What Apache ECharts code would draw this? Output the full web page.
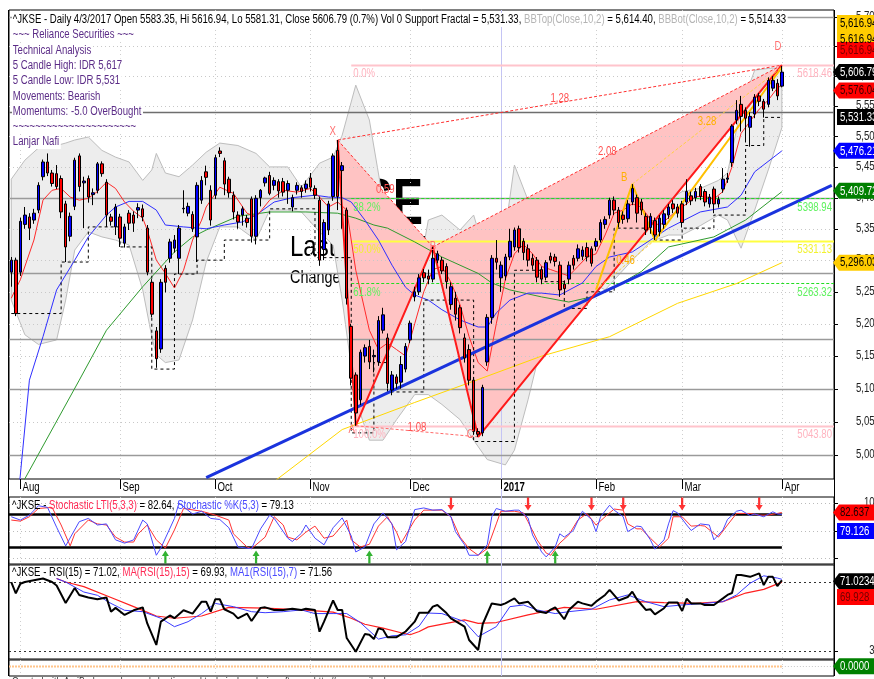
<!DOCTYPE html>
<html><head><meta charset="utf-8">
<script src="https://cdn.jsdelivr.net/npm/echarts@6/dist/echarts.min.js"></script>
<style>html,body{margin:0;padding:0;background:#fff}#c{width:874px;height:679px}</style>
</head><body><div id="c"></div>
<script>
// ---------------- DATA ----------------
const monthNames = ['Aug','Sep','Oct','Nov','Dec','2017','Feb','Mar','Apr'];
const monthStartBars = [2,24,45,66,88,108,129,148,170];
const yearStartBar = 108;
const N_CATS = 182;
// [open, high, low, close]
const jul16 = [[5281,5305,5258,5300],[5300,5304,5212,5216]];
const aug16 = [[5281,5368,5275,5362],[5357,5385,5350,5372],[5369,5375,5332,5351],[5364,5382,5358,5375],[5380,5425,5375,5420],[5434,5462,5428,5458],[5458,5472,5435,5440],[5440,5445,5418,5423],[5439,5453,5414,5418],[5431,5436,5367,5377],[5390,5395,5297,5321],[5338,5376,5330,5370],[5386,5465,5380,5461],[5468,5472,5410,5418],[5424,5434,5351,5427],[5431,5436,5392,5401],[5405,5415,5388,5408],[5412,5458,5407,5455],[5455,5459,5434,5439],[5425,5430,5353,5372],[5369,5374,5355,5362],[5353,5390,5340,5385]];
const sep16 = [[5369,5374,5321,5335],[5327,5358,5320,5353],[5375,5380,5348,5359],[5372,5378,5345,5359],[5380,5391,5367,5384],[5382,5389,5362,5369],[5351,5356,5276,5281],[5265,5270,5210,5215],[5189,5195,5132,5146],[5161,5270,5155,5265],[5287,5292,5249,5265],[5303,5334,5296,5329],[5319,5340,5312,5332],[5303,5356,5278,5351],[5382,5412,5375,5383],[5375,5392,5370,5386],[5373,5378,5345,5350],[5337,5425,5297,5420],[5396,5435,5390,5428],[5442,5452,5420,5433],[5412,5420,5355,5364]];
const oct16 = [[5404,5470,5398,5465],[5476,5482,5466,5472],[5460,5465,5404,5422],[5430,5434,5400,5408],[5404,5410,5365,5377],[5372,5378,5350,5361],[5372,5386,5355,5382],[5367,5372,5352,5360],[5398,5402,5328,5338],[5338,5404,5325,5399],[5400,5414,5386,5412],[5424,5434,5418,5432],[5436,5442,5404,5407],[5420,5433,5412,5428],[5426,5430,5400,5411],[5426,5432,5402,5409],[5412,5428,5390,5423],[5385,5405,5378,5400],[5412,5425,5405,5420],[5416,5420,5400,5410],[5415,5428,5408,5422]];
const nov16 = [[5432,5440,5410,5417],[5415,5420,5398,5404],[5396,5402,5291,5300],[5317,5365,5300,5360],[5348,5395,5340,5390],[5402,5472,5395,5468],[5477,5494,5380,5402],[5444,5458,5350,5452],[5380,5384,5230,5240],[5196,5200,5105,5116],[5121,5125,5043.8,5063],[5083,5160,5075,5156],[5150,5168,5140,5163],[5165,5175,5130,5141],[5149,5160,5125,5151],[5141,5212,5135,5205],[5190,5225,5185,5214],[5178,5185,5100,5108],[5098,5127,5090,5121],[5118,5122,5100,5108],[5110,5150,5100,5137],[5130,5170,5125,5165]];
const dec16 = [[5175,5205,5170,5201],[5242,5258,5235,5250],[5250,5278,5245,5272],[5280,5286,5265,5272],[5275,5285,5262,5270],[5270,5321,5265,5303],[5300,5315,5295,5310],[5300,5305,5278,5283],[5290,5295,5255,5266],[5230,5265,5222,5258],[5240,5250,5205,5215],[5225,5230,5185,5194],[5178,5185,5140,5147],[5160,5168,5105,5113],[5113,5118,5030,5035],[5035,5040,5027,5031],[5033,5106,5028,5102],[5141,5215,5135,5210],[5210,5308,5200,5303],[5303,5332,5285,5296.7]];
const jan17 = [[5272,5298,5250,5292],[5275,5310,5268,5305],[5305,5350,5300,5330],[5321,5352,5315,5348],[5350,5355,5312,5320],[5330,5335,5300,5312],[5318,5325,5290,5300],[5303,5310,5285,5292],[5300,5305,5265,5273],[5285,5290,5262,5270],[5273,5300,5268,5296],[5306,5312,5295,5300],[5305,5310,5290,5298],[5292,5298,5242,5253],[5262,5268,5245,5255],[5270,5298,5262,5292],[5303,5308,5285,5292],[5303,5325,5298,5318],[5306,5322,5300,5316],[5320,5328,5298,5305],[5318,5322,5290,5295]];
const feb17 = [[5322,5335,5315,5330],[5332,5365,5328,5360],[5357,5370,5350,5365],[5372,5400,5366,5396],[5396,5402,5372,5380],[5380,5385,5352,5360],[5372,5378,5358,5365],[5366,5396,5360,5390],[5393,5422,5388,5415],[5400,5405,5360,5375],[5393,5398,5372,5380],[5370,5375,5340,5348],[5352,5375,5342,5370],[5363,5368,5332,5340],[5345,5372,5338,5367],[5357,5380,5350,5374],[5372,5390,5366,5385],[5390,5396,5375,5382],[5385,5390,5368,5375]];
const mar17 = [[5390,5395,5352,5360],[5393,5430,5388,5410],[5403,5410,5388,5395],[5400,5416,5394,5410],[5418,5422,5396,5402],[5410,5414,5386,5393],[5390,5406,5384,5401],[5414,5418,5375,5390],[5390,5402,5384,5397],[5414,5448,5408,5430],[5430,5440,5424,5432],[5457,5520,5450,5517],[5527,5560,5520,5543],[5553,5567,5508,5533],[5543,5548,5490,5530],[5515,5540,5483,5533],[5537,5570,5530,5565],[5567,5572,5550,5558],[5558,5562,5531,5545],[5553,5598,5548,5593],[5580,5600,5575,5593],[5588,5595,5560,5567]];
const apr17 = [[5583.35,5616.94,5581.31,5606.79]];

// indicator lines, [bar, value]
const maFast = [[0,5240],[2,5269],[5,5332],[7,5396],[9,5412],[11,5415],[13,5401],[15,5396],[17,5399],[19,5410],[21,5425],[23,5415],[25,5393],[27,5378],[29,5367],[30,5348],[32,5300],[34,5279],[36,5256],[38,5284],[40,5332],[42,5364],[43,5385],[46,5417],[49,5407],[52,5375],[54,5369],[57,5396],[60,5412],[63,5409],[66,5415],[68,5401],[70,5385],[72,5393],[74,5380],[76,5284],[79,5190],[81,5160],[83,5170],[85,5160],[87,5150],[89,5200],[91,5250],[93,5285],[95,5290],[97,5265],[99,5230],[101,5180],[103,5140],[105,5127],[107,5200],[109,5270],[111,5310],[113,5325],[115,5310],[117,5290],[119,5285],[121,5280],[123,5275],[125,5290],[127,5305],[129,5310],[131,5340],[133,5375],[135,5380],[137,5390],[139,5385],[141,5365],[143,5355],[145,5368],[147,5380],[149,5390],[151,5402],[153,5402],[155,5398],[157,5410],[159,5450],[161,5505],[163,5525],[165,5545],[167,5560],[169,5580],[170,5585]];
const maMid = [[1,4900],[4,5113],[7,5180],[10,5253],[14,5300],[17,5337],[21,5372],[23,5385],[26,5394],[29,5394],[32,5380],[34,5356],[38,5353],[43,5350],[47,5356],[51,5361],[54,5372],[58,5393],[62,5400],[67,5404],[70,5401],[73,5400],[75,5393],[78,5364],[81,5332],[84,5292],[87,5257],[89,5245],[92,5237],[95,5222],[99,5206],[103,5195],[105,5195],[107,5217],[110,5237],[114,5248],[117,5248],[121,5245],[126,5264],[129,5290],[132,5305],[137,5313],[145,5351],[152,5377],[158,5385],[161,5404],[164,5442],[170,5476.2]];
const maSlow = [[1,4940],[15,5113],[21,5190],[29,5258],[36,5313],[40,5337],[43,5348],[50,5370],[57,5377],[65,5377],[72,5375],[76,5367],[80,5356],[83,5351],[89,5329],[95,5305],[103,5279],[106,5264],[110,5253],[117,5242],[123,5234],[128,5242],[132,5253],[139,5282],[145,5321],[155,5337],[162,5364],[170,5409.7]];
const maLong = [[56,4950],[73,5038],[89,5079],[103,5114],[117,5150],[132,5180],[147,5232],[160,5263],[170,5296.0]];
const bbTop = [[0,5430],[3,5461],[6,5481],[10,5485],[12,5489],[14,5494],[17,5499],[20,5477],[23,5466],[26,5458],[29,5428],[31,5445],[32,5472],[34,5440],[37,5434],[40,5453],[43,5474],[46,5489],[50,5485],[54,5472],[57,5450],[61,5450],[64,5417],[68,5456],[71,5466],[73,5502],[76,5585],[79,5527],[82,5396],[85,5253],[89,5242],[92,5364],[95,5372],[99,5348],[102,5372],[105,5300],[109,5348],[111,5453],[114,5396],[117,5351],[121,5340],[124,5324],[127,5324],[131,5412],[137,5417],[141,5404],[145,5396],[148,5410],[152,5415],[156,5428],[158,5440],[161,5547],[164,5610],[167,5613],[170,5614.4]];
const bbBot = [[0,5237],[3,5183],[6,5168],[10,5175],[12,5237],[14,5316],[17,5345],[20,5337],[23,5332],[26,5324],[29,5253],[31,5180],[32,5152],[34,5140],[37,5144],[40,5206],[43,5297],[46,5353],[50,5353],[54,5332],[57,5380],[61,5380],[64,5377],[68,5345],[71,5324],[73,5237],[76,5083],[79,5022],[82,5022],[85,5053],[89,5091],[92,5091],[95,5076],[99,5053],[102,5022],[105,4993],[109,4985],[111,5007],[114,5083],[117,5168],[121,5237],[124,5253],[127,5269],[131,5253],[137,5300],[141,5329],[145,5340],[148,5340],[152,5355],[156,5372],[158,5364],[161,5319],[164,5380],[167,5445],[170,5514.33]];
const supportFractal = [[0,5216],[11,5297],[17,5353],[24,5321],[31,5130],[36,5278],[41,5300],[47,5332],[57,5382],[67,5304],[75,5033],[80,5140],[83,5095],[91,5237],[102,5020],[111,5284],[117,5266],[122,5224],[127,5250],[133,5351],[142,5332],[148,5351],[155,5372],[162,5485],[166,5531.33],[170,5531.33]];
const trendLine = [[43,4966],[181,5420]];
// harmonic pattern pivots [bar, price]
const patX = [72,5494], patA = [76,5043.8], patB = [93,5321], patC = [103,5027], patD = [170,5618.46];
const pat2X = [129,5253], pat2B = [137,5422], pat2C = [142,5332], pat2D = [170,5615];
const fibLevels = [5618.46,5398.94,5331.13,5263.32,5043.80];
const fibNames = ['0.0%','38.2%','50.0%','61.8%','100.0%'];
const priceTicks = [5000,5050,5100,5150,5200,5250,5300,5350,5400,5450,5500,5550,5600,5650,5700];
const grayLevels = [5000,5100,5176,5280,5400,5700];
const darkLevel = 5541;
// oscillators
const stochK = [[0,75],[2,69],[4,78],[6,95],[8,92],[10,56],[12,22],[15,66],[17,72],[19,60],[21,62],[23,33],[25,27],[27,33],[29,69],[30,62],[32,5],[33,18],[36,72],[37,100],[40,80],[42,85],[44,72],[46,70],[48,55],[50,20],[53,17],[55,53],[57,78],[58,72],[61,36],[62,30],[64,45],[65,60],[67,36],[69,24],[71,55],[73,73],[75,40],[76,11],[78,20],[80,62],[82,82],[84,62],[85,15],[87,30],[89,88],[91,91],[93,87],[95,88],[97,75],[98,48],[100,24],[101,5],[103,5],[105,24],[106,75],[107,90],[109,85],[111,87],[112,87],[114,73],[115,42],[117,11],[118,2],[120,20],[121,44],[122,38],[124,50],[126,85],[128,70],[129,48],[130,75],[132,96],[133,87],[135,75],[136,48],[138,58],[139,57],[141,33],[142,16],[144,33],[145,62],[146,86],[147,82],[149,60],[150,50],[152,62],[154,60],[155,33],[157,51],[158,70],[160,85],[161,87],[163,77],[164,80],[166,75],[168,84],[169,80],[170,79.13]];
const stochLTI = [[0,69],[2,67],[4,75],[6,90],[9,92],[11,60],[13,22],[14,44],[17,69],[19,62],[21,60],[23,38],[25,29],[27,29],[28,44],[30,60],[32,33],[34,18],[36,51],[38,90],[42,85],[45,78],[48,69],[49,44],[52,20],[53,17],[56,38],[58,75],[60,60],[61,38],[63,33],[65,47],[67,58],[69,36],[71,40],[74,69],[75,33],[77,20],[79,25],[81,58],[83,75],[85,47],[86,27],[89,69],[91,87],[93,87],[95,87],[97,75],[99,38],[101,17],[103,5],[105,17],[107,62],[108,85],[111,85],[113,82],[114,66],[116,33],[118,9],[119,5],[121,27],[123,42],[125,69],[127,81],[129,60],[131,75],[133,89],[135,87],[136,62],[138,53],[139,53],[141,36],[143,20],[145,36],[146,75],[148,75],[150,58],[152,59],[153,58],[156,38],[158,60],[160,81],[163,81],[165,78],[167,78],[169,81],[170,82.64]];
const stochBuyBars = [34,54,79,105,120];
const stochSellBars = [97,114,128,135,148,165];
const rsi = [[0,70],[1,63.4],[2,69],[3,70],[5,71],[7,72],[9,70],[10,68],[12,57.8],[14,66.5],[15,62.5],[17,61],[19,60],[21,61],[22,52.8],[23,55],[25,50.9],[27,53.6],[29,55.3],[30,46],[32,33.5],[33,47],[35,50.6],[36,49],[38,53.6],[40,51.7],[42,58.6],[43,58.6],[44,52.8],[45,60],[46,60],[47,54.2],[49,51.7],[50,48.9],[52,51.7],[53,47.4],[55,55],[56,55.3],[58,53.8],[60,53.8],[62,54.5],[64,53.8],[65,54.5],[67,53.8],[68,41.2],[69,47],[71,59.3],[72,53.8],[73,53.8],[74,37.5],[76,29.6],[78,39.8],[79,39.4],[80,36.9],[81,43.1],[82,42.4],[83,38],[85,38],[87,41.3],[89,47],[90,52.2],[92,52.2],[93,55.7],[94,56.7],[96,52],[97,48.9],[100,44.1],[101,36.4],[103,30.6],[104,45.5],[106,57.6],[108,56.7],[109,57.6],[111,60.5],[112,57.6],[114,58.6],[116,53],[118,52],[119,54],[120,55.3],[122,48.4],[123,53.8],[125,58.6],[126,57.6],[128,56.2],[129,58.6],[131,62.5],[132,65.4],[134,59.3],[136,61.3],[137,64.4],[138,60],[140,53.8],[141,54.2],[142,51.2],[144,54.8],[145,58.1],[147,58.1],[148,53.2],[149,60.3],[150,57.6],[152,57.6],[153,56.7],[155,56.7],[157,60.5],[158,62.5],[159,63.6],[160,74],[161,74],[163,73],[165,75],[166,68.2],[167,73],[168,73],[169,67.6],[170,71.02]];
const rsiMA15 = [[10,72],[12,70],[16,67.3],[22,61],[27,55.7],[32,50.3],[36,49],[42,50.3],[48,55.3],[56,54.8],[64,53.8],[71,52.5],[75,49],[78,45.5],[82,43.3],[86,40.6],[88,39.4],[90,41.3],[92,44],[100,48],[103,46],[107,46.5],[114,50.9],[122,55.3],[129,54.2],[138,58.6],[144,58],[151,57.6],[157,58.6],[162,63.6],[166,65.7],[170,69.93]];
const rsiMA7 = [[10,72],[12,70],[16,64.2],[19,62.3],[22,57.6],[25,53.6],[29,52.8],[33,49],[36,44.1],[39,47],[42,51.7],[45,57.6],[49,55.7],[53,52.8],[56,52.2],[60,52.8],[64,53.8],[67,51.7],[71,51.7],[74,51.7],[77,46.5],[81,36.9],[84,38.8],[87,39.4],[90,44.5],[92,52],[95,51.7],[100,47],[103,38.3],[107,44.1],[110,55.7],[113,56.7],[116,53.8],[120,51.7],[123,52.8],[128,54.2],[132,59.6],[136,62.5],[140,58.6],[144,55.7],[148,56.7],[153,57.6],[157,58.6],[160,62.5],[163,69.3],[166,73.6],[169,72.3],[170,71.56]];

// ---------------- LAYOUT ----------------
const GL = 9, GW = 825;
const panels = [{top:10,height:469},{top:497,height:67},{top:565,height:94},{top:660,height:16}];
const yRanges = [[4964,5712],[-10.9,110.9],[25.36,79.86],[-1.6,1]];
const SX = 0.8;
const FONT = 'Arial, "Liberation Sans", sans-serif';

const candles = [].concat(jul16,aug16,sep16,oct16,nov16,dec16,jan17,feb17,mar17,apr17);
const candleData = candles.map(c => [c[0], c[3], c[2], c[1]]);
const cats = Array.from({length:N_CATS}, (_, i) => String(i));

const chart = echarts.init(document.getElementById('c'), null, {renderer:'canvas'});

function hidden(extra){ return Object.assign({axisLine:{show:false},axisTick:{show:false},axisLabel:{show:false},splitLine:{show:false}}, extra); }

function lineS(grid, data, color, width, o){
  o = o || {};
  return {type:'line', xAxisIndex:grid, yAxisIndex:grid, data, symbol:'none', silent:true, animation:false,
    connectNulls:true, step:o.step||false, z:o.z||4,
    lineStyle:{color, width, type:o.dash||'solid'}};
}
function polyS(pts, fill, stroke, z){
  return {type:'custom', xAxisIndex:0, yAxisIndex:0, z, silent:true, animation:false,
    data:[[0,5000]], encode:{x:0,y:1},
    renderItem(params, api){
      return {type:'polygon', shape:{points: pts.map(p => api.coord(p))},
        style:{fill, stroke: stroke || null, lineWidth:1}};
    }};
}
function hlineS(grid, items, z){
  return {type:'custom', xAxisIndex:grid, yAxisIndex:grid, z, silent:true, animation:false,
    data: items.map(it => [it.from == null ? 0 : it.from, it.level, it.to == null ? 0 : it.to]),
    encode:{x:[0,2], y:1},
    renderItem(params, api){
      const it = items[params.dataIndex];
      const cs = params.coordSys;
      const y = Math.round(api.coord([0, it.level])[1]) + 0.5;
      const x1 = it.from == null ? cs.x : api.coord([it.from, it.level])[0];
      const x2 = it.to == null ? cs.x + cs.width : api.coord([it.to, it.level])[0];
      return {type:'line', shape:{x1, y1:y, x2, y2:y},
        style:{stroke:it.color, lineWidth:it.width, lineDash:it.dash || null}};
    }};
}
function vlineS(grid, bars, color, dash, z){
  const mid = (yRanges[grid][0] + yRanges[grid][1]) / 2;
  return {type:'custom', xAxisIndex:grid, yAxisIndex:grid, z, silent:true, animation:false,
    data: bars.map(b => [b, mid]), encode:{x:0,y:1},
    renderItem(params, api){
      const cs = params.coordSys;
      const x = Math.round(api.coord([api.value(0), mid])[0]) + 0.5;
      return {type:'line', shape:{x1:x, y1:cs.y, x2:x, y2:cs.y + cs.height},
        style:{stroke:color, lineWidth:1, lineDash:dash || null}};
    }};
}

const monthGridBars = monthStartBars.filter(b => b !== yearStartBar);
const series = [];
for (let g = 0; g < 4; g++) series.push(vlineS(g, monthGridBars, '#cfcfcf', [1,3], 0));
series.push(polyS(bbTop.concat(bbBot.slice().reverse()), '#ededed', '#bdbdbd', 1));
series.push(polyS([patX, patA, patB], '#ffc3c3', null, 1.5));
series.push(polyS([patB, patC, patD], '#ffc3c3', null, 1.5));
series.push(hlineS(0, priceTicks.map(v => ({level:v, color:'#c8c8c8', width:1, dash:[1,3]})), 2));
series.push(hlineS(0, grayLevels.map(v => ({level:v, color:'#9a9a9a', width:1.5})), 2.2));
series.push(hlineS(0, [{level:darkLevel, color:'#6e6e6e', width:1.5}], 2.2));
const fibStyles = [{color:'#ffc4cc', width:2},{color:'#22dd22', width:1, dash:[3,2]},{color:'#ffff40', width:2},{color:'#22dd22', width:1, dash:[3,2]},{color:'#ffc4cc', width:2}];
series.push(hlineS(0, fibLevels.map((v,i) => Object.assign({level:v, from:patA[0]-1}, fibStyles[i])), 2.4));
series.push(lineS(0, maLong, '#ffd700', 1, {z:3}));
series.push(lineS(0, maSlow, '#2e9a2e', 1, {z:3}));
series.push(lineS(0, maMid, '#2f2fff', 1, {z:3}));
series.push(lineS(0, maFast, '#ff2a2a', 1, {z:3}));
series.push(lineS(0, supportFractal, '#000', 1, {z:3.2, step:'end', dash:[3,3]}));
series.push(lineS(0, trendLine, '#1a33dd', 3, {z:4}));
series.push(lineS(0, [patX, patA, patB, patC, patD], '#ff1a1a', 2, {z:4}));
series.push(lineS(0, [patX, patB], '#ff3030', 1, {z:4, dash:[3,2]}));
series.push(lineS(0, [patA, patC], '#ff6a6a', 1, {z:4, dash:[3,2]}));
series.push(lineS(0, [patB, patD], '#ff3030', 1, {z:4, dash:[3,2]}));
series.push(lineS(0, [patX, patD], '#ff3030', 1, {z:4, dash:[3,2]}));
series.push(lineS(0, [pat2X, pat2B, pat2C, pat2D], '#ffc000', 2, {z:4.1}));
series.push(lineS(0, [pat2X, pat2C], '#ffd040', 1, {z:4.1, dash:[3,2]}));
series.push(lineS(0, [pat2B, pat2D], '#ffd040', 1, {z:4.1, dash:[3,2]}));
series.push({type:'candlestick', xAxisIndex:0, yAxisIndex:0, data:candleData, barWidth:3, z:6, silent:true, animation:false,
  itemStyle:{color:'#0000ff', color0:'#ff0000', borderColor:'#000', borderColor0:'#000', borderColorDoji:'#000', borderWidth:1}});
series.push(hlineS(1, [{level:100,color:'#bbb',width:1,dash:[1,3]},{level:50,color:'#bbb',width:1,dash:[1,3]},{level:0,color:'#bbb',width:1,dash:[1,3]},
  {level:80,color:'#000',width:2.5,to:170},{level:20,color:'#000',width:2.5,to:170}], 2));
series.push(lineS(1, stochLTI, '#ff3333', 1, {z:4}));
series.push(lineS(1, stochK, '#4a4aff', 1, {z:4}));
const upArrow = 'path://M5,0L10,6L6.6,6L6.6,14L3.4,14L3.4,6L0,6Z';
series.push({type:'scatter', xAxisIndex:1, yAxisIndex:1, data:stochBuyBars.map(b => [b, 2]), symbol:upArrow, symbolSize:[7,13], itemStyle:{color:'#00a000'}, z:5, silent:true, animation:false});
series.push({type:'scatter', xAxisIndex:1, yAxisIndex:1, data:stochSellBars.map(b => [b, 98]), symbol:upArrow, symbolRotate:180, symbolSize:[7,13], itemStyle:{color:'#ff0000'}, z:5, silent:true, animation:false});
series.push(hlineS(2, [{level:70,color:'#333',width:1,dash:[2,3]},{level:30,color:'#333',width:1,dash:[2,3]}], 2));
series.push(lineS(2, rsiMA15, '#ff2020', 1.2, {z:4}));
series.push(lineS(2, rsiMA7, '#3a3aff', 1, {z:4}));
series.push(lineS(2, rsi, '#000', 2, {z:5}));
series.push(hlineS(3, [{level:0,color:'#ffc48a',width:2,dash:[2,1],to:170},{level:0,color:'#c8c8c8',width:1,dash:[1,2],from:170}], 2));

const option = {
  animation:false,
  backgroundColor:'#fff',
  grid: panels.map(p => ({left:GL, width:GW, top:p.top, height:p.height, show:true, borderColor:'#000', borderWidth:1, backgroundColor:'transparent', containLabel:false})),
  xAxis: panels.map((p,k) => hidden({type:'category', gridIndex:k, data:cats, boundaryGap:true})),
  yAxis: [
    hidden({type:'log', logBase:10, gridIndex:0, min:yRanges[0][0], max:yRanges[0][1], position:'right'}),
    hidden({type:'value', gridIndex:1, min:yRanges[1][0], max:yRanges[1][1], position:'right'}),
    hidden({type:'value', gridIndex:2, min:yRanges[2][0], max:yRanges[2][1], position:'right'}),
    hidden({type:'value', gridIndex:3, min:yRanges[3][0], max:yRanges[3][1], position:'right'})
  ],
  series
};
chart.setOption(option);

// ---------------- TEXT / DECORATION (positions via the chart's scales) ----------------
const P = (g, x, y) => chart.convertToPixel({gridIndex:g}, [x, y]);
function T(x, y, text, o){
  o = o || {};
  const font = (o.weight || 'normal') + ' ' + (o.size || 12) + 'px ' + FONT;
  const st = {text, fill:o.color || '#000', font, align:o.align || 'left', verticalAlign:o.valign || 'middle',
    textAlign:o.align || 'left', textVerticalAlign:o.valign || 'middle'};
  if (o.bg) { st.backgroundColor = o.bg; st.padding = [1,2,1,1]; }
  if (o.rich) {
    st.rich = {};
    for (const k in o.rich) st.rich[k] = {fill:o.rich[k], font};
  }
  return {type:'text', x, y, scaleX:o.sx == null ? SX : o.sx, z:o.z == null ? 100 : o.z, silent:true, style:st};
}
function L(x1, y1, x2, y2, color, w, z, dash){
  return {type:'line', silent:true, z:z == null ? 90 : z, shape:{x1, y1, x2, y2}, style:{stroke:color, lineWidth:w || 1, lineDash:dash || null}};
}
const g = [];
const RIGHT = GL + GW;
g.push(T(423, 206, '^JKSE', {size:64, weight:'bold', align:'right', sx:0.7, z:-10}));
g.push(T(290, 248, 'Last: 5,606.79', {size:30, sx:0.8, z:-10}));
g.push(T(290, 278, 'Change: 38.79 (0.70%)', {size:18, sx:0.8, z:-10}));
g.push(L(8.5, 10, 8.5, 676, '#000', 1, 95));
g.push(L(RIGHT + 0.5, 10, RIGHT + 0.5, 676, '#000', 1, 95));
const yx = Math.round(P(0, yearStartBar, 5300)[0]) + 0.5;
g.push(L(yx, 10, yx, 676, '#c4c4f4', 1, 1));
monthStartBars.forEach((b, i) => {
  const x = Math.round(P(0, b, 5300)[0]) + 0.5;
  g.push(L(x, 479, x, 489, '#000', 1));
  g.push(T(x + 2, 488, monthNames[i], {weight: monthNames[i] === '2017' ? 'bold' : 'normal'}));
});
priceTicks.forEach(v => {
  const y = P(0, 0, v)[1];
  g.push(L(RIGHT, Math.round(y) + 0.5, RIGHT + 4, Math.round(y) + 0.5, '#000', 1));
  g.push(T(880, y, v.toLocaleString('en-US'), {align:'right', color:'#222'}));
});
[[1,100],[1,50],[1,0],[2,70],[2,30]].forEach(([gi, v]) => {
  const y = P(gi, 0, v)[1];
  g.push(L(RIGHT, Math.round(y) + 0.5, RIGHT + 4, Math.round(y) + 0.5, '#000', 1));
  g.push(T(880, y, String(v), {align:'right', color:'#222'}));
});
const purple = '#5b2c87';
g.push(T(12, 20, '{k|^JKSE - Daily 4/3/2017 Open 5583.35, Hi 5616.94, Lo 5581.31, Close 5606.79 (0.7%) Vol 0 Support Fractal = 5,531.33, }{g|BBTop(Close,10,2)}{k| = 5,614.40, }{g|BBBot(Close,10,2)}{k| = 5,514.33}',
  {rich:{k:'#000', g:'#b4b4b4'}, bg:'#fff'}));
const headLines = ['~~~ Reliance Securities ~~~','Technical Analysis','5 Candle High: IDR 5,617','5 Candle Low: IDR 5,531','Movements: Bearish','Momentums: -5.0 OverBought','~~~~~~~~~~~~~~~~~~~~~~','Lanjar Nafi'];
headLines.forEach((s, i) => g.push(T(12, 35 + i * 15.3, s, {color:purple, bg:'#fff'})));
g.push(T(12, 506, '{k|^JKSE - }{r|Stochastic LTI(5,3,3)}{k| = 82.64, }{b|Stochastic %K(5,3)}{k| = 79.13}', {rich:{k:'#000', r:'#ff2a55', b:'#4a4aff'}}));
g.push(T(12, 573, '{k|^JKSE - RSI(15) = 71.02, }{r|MA(RSI(15),15)}{k| = 69.93, }{b|MA1(RSI(15),7)}{k| = 71.56}', {rich:{k:'#000', r:'#ff2a55', b:'#4a4aff'}}));
g.push(T(12, 676, 'Created with AmiBroker - advanced charting and technical analysis software. http://www.amibroker.com', {size:11, valign:'top', color:'#333'}));
const fibColors = ['#ffb3bf','#5ef25e','#f2f230','#5ef25e','#ffb3bf'];
fibLevels.forEach((v, i) => {
  const p = P(0, patA[0] - 1, v);
  g.push(T(p[0] + 2, p[1] + 9, fibNames[i], {color:fibColors[i], z:20}));
  g.push(T(RIGHT - 2, p[1] + 9, v.toFixed(2), {color:fibColors[i], align:'right', z:20}));
});
const lab = (pt, dx, dy, s, c) => { const p = P(0, pt[0], pt[1]); g.push(T(p[0] + dx, p[1] + dy, s, {color:c, z:20, align:'center'})); };
lab(patX, -5, -8, 'X', '#ff7070');
lab(patA, -4, 4, 'A', '#ff7070');
lab(patB, 0, 0, 'B', '#ff7070');
lab(patC, -8, -2, 'C', '#ff7070');
lab(patD, -4, -18, 'D', '#ff7070');
lab(pat2B, -8, -6, 'B', '#ffb000');
function midLab(a, b, t, s, c){ const pa = P(0, a[0], a[1]), pb = P(0, b[0], b[1]); g.push(T(pa[0] + (pb[0]-pa[0])*t, pa[1] + (pb[1]-pa[1])*t - 4, s, {color:c, z:20, align:'center'})); }
midLab(patX, patB, 0.5, '0.59', '#ff5050');
midLab(patX, patD, 0.5, '1.28', '#ff5050');
midLab(patB, patD, 0.5, '2.08', '#ff5050');
midLab(patA, patC, 0.5, '1.08', '#ff5050');
midLab(pat2X, pat2C, 0.5, '0.46', '#ffb000');
midLab(pat2B, pat2D, 0.5, '3.28', '#ffb000');
function box(y, text, bg, fg, arrow){
  const pts = arrow ? [[RIGHT - 1, y], [RIGHT + 5, y - 8], [880, y - 8], [880, y + 8], [RIGHT + 5, y + 8]]
                    : [[RIGHT + 3, y - 8], [880, y - 8], [880, y + 8], [RIGHT + 3, y + 8]];
  g.push({type:'polygon', silent:true, z:110, shape:{points:pts}, style:{fill:bg}});
  g.push(T(RIGHT + 6, y + 0.5, text, {color:fg, z:111}));
}
box(23, '5,616.94', '#ffcc00', '#000', false);
box(39, '5,616.94', '#ffcc00', '#000', false);
box(50, '5,616.94', '#ff0000', '#7a0000', false);
box(P(0,0,5606.79)[1], '5,606.79', '#000', '#fff', true);
box(P(0,0,5576.04)[1], '5,576.04', '#ff0000', '#3a0000', true);
box(117, '5,531.33', '#000', '#fff', false);
box(P(0,0,5476.2)[1], '5,476.21', '#0000ff', '#fff', true);
box(P(0,0,5409.7)[1] - 1, '5,409.72', '#008000', '#fff', true);
box(P(0,0,5296.0)[1], '5,296.03', '#ffcc00', '#000', true);
box(P(1,0,82.637)[1], '82.637', '#ff0000', '#1a0000', true);
box(531, '79.126', '#0000ff', '#fff', false);
box(P(2,0,71.023)[1] + 1, '71.0234', '#000', '#fff', true);
box(597, '69.928', '#ff0000', '#700000', false);
box(P(3,0,0)[1], '0.0000', '#008000', '#fff', true);

chart.setOption({graphic:{elements:g}});
</script></body></html>
